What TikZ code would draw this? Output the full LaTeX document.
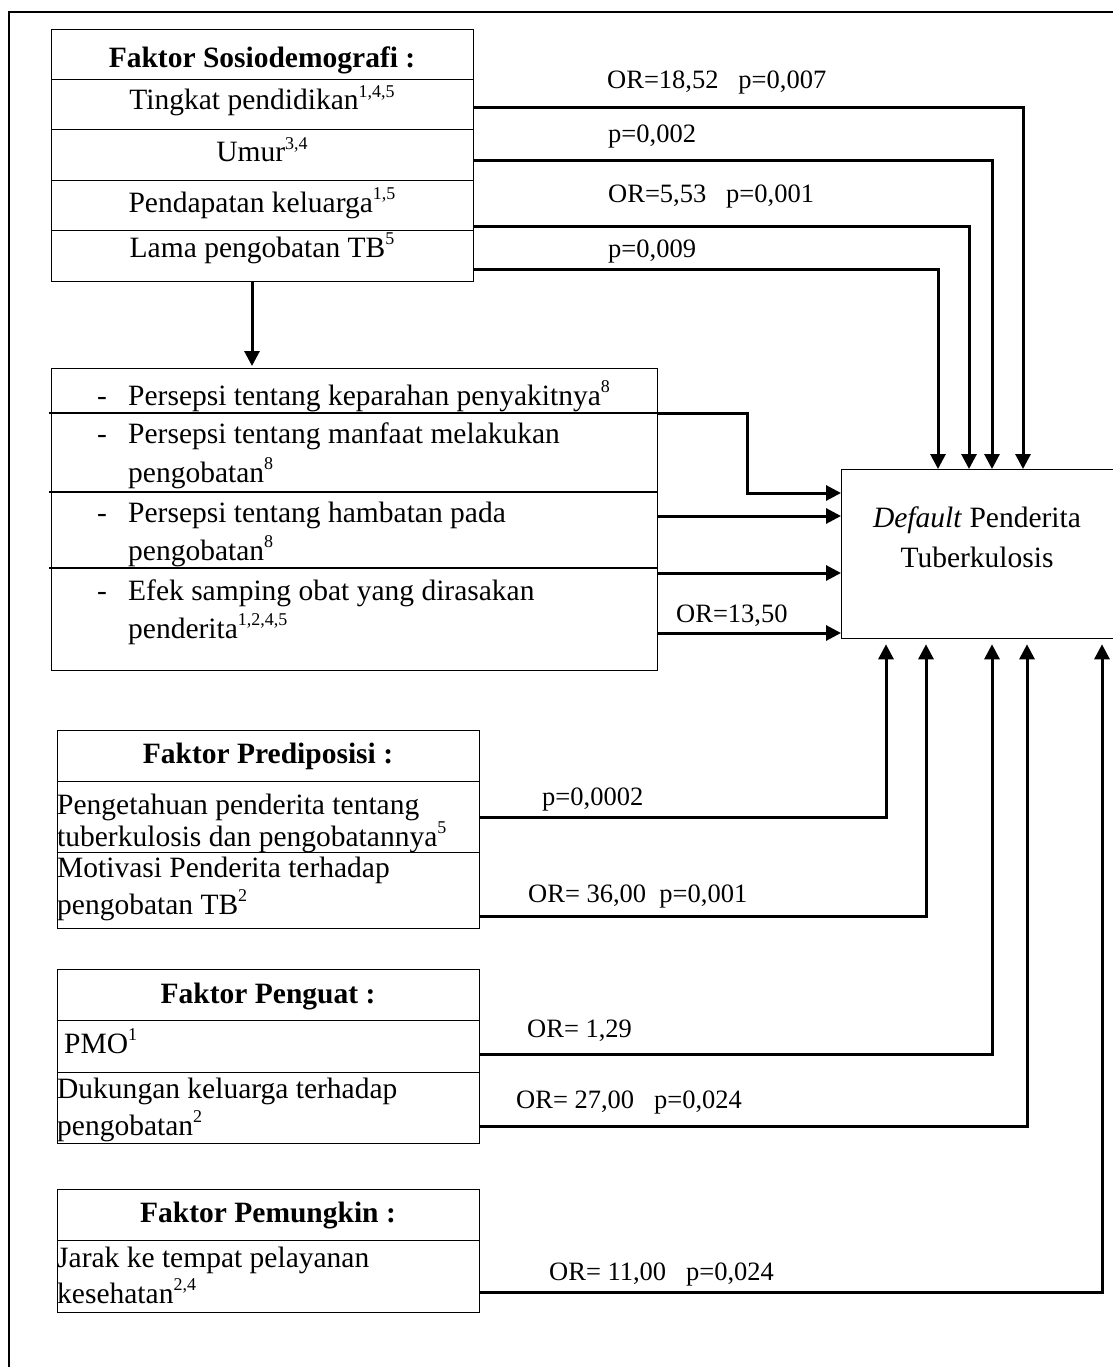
\documentclass[tikz,border=0pt]{standalone}
\usepackage{fontspec}
\setmainfont{Liberation Serif}
\usetikzlibrary{arrows.meta}
\tikzset{
  cell/.style={draw, line width=1.3pt, anchor=north west, inner sep=0pt, minimum width=422pt},
  bodytext/.style={font=\fontsize{29.5}{35}\selectfont, inner sep=0pt, anchor=base},
  lefttext/.style={bodytext, anchor=base west},
  headtext/.style={bodytext, font=\fontsize{29.5}{35}\selectfont\bfseries},
  lbl/.style={font=\fontsize{26.5}{32}\selectfont, inner sep=0pt, anchor=base west},
  conn/.style={line width=3pt},
  arr/.style={conn, -{Triangle[length=15pt,width=15pt]}},
  divider/.style={line width=2.6pt},
}
\newcommand{\supnum}[1]{\raisebox{0.42em}{\fontsize{18}{20}\selectfont #1}}
\begin{document}
\begin{tikzpicture}[x=1pt,y=-1pt]
\useasboundingbox (0,0) rectangle (1112,1367);
% outer frame
\draw[line width=2.5pt] (9,1380) -- (9,12) -- (1125,12);

% socio-demographic factors
\node[cell, minimum height=50pt] (s0) at (51,29) {};
\node[cell, minimum height=50pt] (s1) at (51,79) {};
\node[cell, minimum height=51pt] (s2) at (51,129) {};
\node[cell, minimum height=50pt] (s3) at (51,180) {};
\node[cell, minimum height=51pt] (s4) at (51,230) {};
\node[headtext] (s0t) at (262,68) {Faktor Sosiodemografi :};
\node[bodytext] (s1t) at (262,110) {Tingkat pendidikan\supnum{1,4,5}};
\node[bodytext] (s2t) at (262,162) {Umur\supnum{3,4}};
\node[bodytext] (s3t) at (262,212) {Pendapatan keluarga\supnum{1,5}};
\node[bodytext] (s4t) at (262,257) {Lama pengobatan TB\supnum{5}};

% perceptions box
\node[draw, line width=1.3pt, anchor=north west, inner sep=0pt,
      minimum width=606pt, minimum height=302pt] (p) at (51,368) {};
\coordinate (d1) at (49,413);
\coordinate (d2) at (49,492);
\coordinate (d3) at (49,568);
\draw[divider] (d1) -- (p.east |- d1);
\draw[divider] (d2) -- (p.east |- d2);
\draw[divider] (d3) -- (p.east |- d3);
\node[lefttext] (pd1) at (97,405) {-};
\node[lefttext] (pt1) at (128,405) {Persepsi tentang keparahan penyakitnya\supnum{8}};
\node[lefttext] (pd2) at (97,443) {-};
\node[lefttext] (pt2) at (128,443) {Persepsi tentang manfaat melakukan};
\node[lefttext] (pt2b) at (128,482) {pengobatan\supnum{8}};
\node[lefttext] (pd3) at (97,522) {-};
\node[lefttext] (pt3) at (128,522) {Persepsi tentang hambatan pada};
\node[lefttext] (pt3b) at (128,560) {pengobatan\supnum{8}};
\node[lefttext] (pd4) at (97,600) {-};
\node[lefttext] (pt4) at (128,600) {Efek samping obat yang dirasakan};
\node[lefttext] (pt4b) at (128,638) {penderita\supnum{1,2,4,5}};

% outcome
\node[draw, line width=1.3pt, anchor=north west, inner sep=0pt,
      minimum width=273pt, minimum height=169pt] (def) at (841,469) {};
\node[bodytext] (deft1) at (977,527) {\textit{Default} Penderita};
\node[bodytext] (deft2) at (977,567) {Tuberkulosis};

% predisposing factors
\node[cell, minimum height=51pt] (h0) at (57,730) {};
\node[cell, minimum height=71pt] (h1) at (57,781) {};
\node[cell, minimum height=76pt] (h2) at (57,852) {};
\node[headtext] (h0t) at (268,763) {Faktor Prediposisi :};
\node[lefttext] (h1t) at (57,814) {Pengetahuan penderita tentang};
\node[lefttext] (h1tb) at (57,846) {tuberkulosis dan pengobatannya\supnum{5}};
\node[lefttext] (h2t) at (57,877) {Motivasi Penderita terhadap};
\node[lefttext] (h2tb) at (57,914) {pengobatan TB\supnum{2}};

% reinforcing factors
\node[cell, minimum height=51pt] (g0) at (57,969) {};
\node[cell, minimum height=52pt] (g1) at (57,1020) {};
\node[cell, minimum height=71pt] (g2) at (57,1072) {};
\node[headtext] (g0t) at (268,1003) {Faktor Penguat :};
\node[lefttext] (g1t) at (64,1053) {PMO\supnum{1}};
\node[lefttext] (g2t) at (57,1098) {Dukungan keluarga terhadap};
\node[lefttext] (g2tb) at (57,1135) {pengobatan\supnum{2}};

% enabling factors
\node[cell, minimum height=51pt] (m0) at (57,1189) {};
\node[cell, minimum height=72pt] (m1) at (57,1240) {};
\node[headtext] (m0t) at (268,1222) {Faktor Pemungkin :};
\node[lefttext] (m1t) at (57,1267) {Jarak ke tempat pelayanan};
\node[lefttext] (m1tb) at (57,1303) {kesehatan\supnum{2,4}};

% rails of the connectors
\coordinate (dn) at (252,281);
\coordinate (r1) at (1023,108);
\coordinate (r2) at (992,161);
\coordinate (r3) at (969,226);
\coordinate (r4) at (938,269);
\coordinate (k1) at (747,413);
\coordinate (k1b) at (747,493);
\coordinate (k2) at (700,516);
\coordinate (k3) at (700,573);
\coordinate (k4) at (700,633);
\coordinate (u1) at (886,817);
\coordinate (u2) at (926,916);
\coordinate (u3) at (992,1054);
\coordinate (u4) at (1027,1126);
\coordinate (u5) at (1102,1292);

% connectors
\draw[arr] (s4.south -| dn) -- ([yshift=2pt]dn |- p.north);
\draw[arr] (s1.east |- r1) -| (def.north -| r1);
\draw[arr] (s2.east |- r2) -| (def.north -| r2);
\draw[arr] (s3.east |- r3) -| (def.north -| r3);
\draw[arr] (s4.east |- r4) -| (def.north -| r4);
\draw[arr] (p.east |- k1) -- (k1) -- (k1b) -- (def.west |- k1b);
\draw[arr] (p.east |- k2) -- (def.west |- k2);
\draw[arr] (p.east |- k3) -- (def.west |- k3);
\draw[arr] (p.east |- k4) -- (def.west |- k4);
\draw[arr] (h1.east |- u1) -| ([yshift=-5pt]def.south -| u1);
\draw[arr] (h2.east |- u2) -| ([yshift=-5pt]def.south -| u2);
\draw[arr] (g1.east |- u3) -| ([yshift=-5pt]def.south -| u3);
\draw[arr] (g2.east |- u4) -| ([yshift=-5pt]def.south -| u4);
\draw[arr] (m1.east |- u5) -| ([yshift=-5pt]def.south -| u5);

% statistics
\node[lbl] (l1) at (607,89) {OR=18,52\ \ \ p=0,007};
\node[lbl] (l2) at (608,143) {p=0,002};
\node[lbl] (l3) at (608,203) {OR=5,53\ \ \ p=0,001};
\node[lbl] (l4) at (608,257) {p=0,009};
\node[lbl] (l5) at (676,622) {OR=13,50};
\node[lbl] (l6) at (542,805) {p=0,0002};
\node[lbl] (l7) at (528,902) {OR= 36,00\ \ p=0,001};
\node[lbl] (l8) at (527,1037) {OR= 1,29};
\node[lbl] (l9) at (516,1108) {OR= 27,00\ \ \ p=0,024};
\node[lbl] (l10) at (549,1280) {OR= 11,00\ \ \ p=0,024};
\end{tikzpicture}
\end{document}
